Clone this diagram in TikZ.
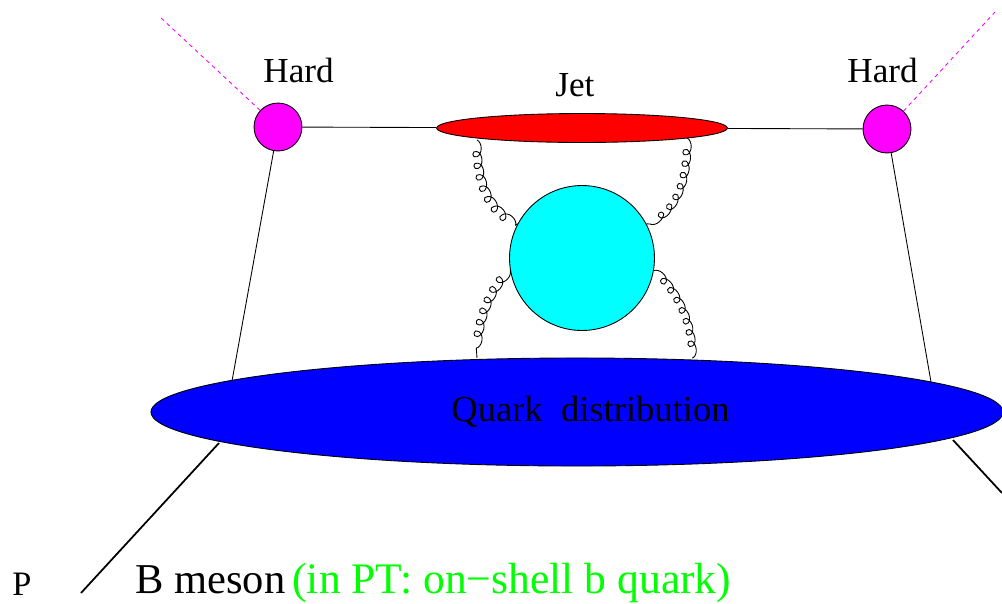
\documentclass[tikz,border=0pt]{standalone}
\usepackage{fontspec}
\setmainfont{Liberation Serif}
\usetikzlibrary{shapes.geometric,decorations.pathmorphing}
\definecolor{hardmag}{rgb}{1,0,1}
\definecolor{softcyan}{rgb}{0,1,1}
\definecolor{ptgreen}{rgb}{0,1,0}
\tikzset{
 blob/.style={draw, line width=0.5pt, inner sep=0pt},
 gluon/.style={decorate, decoration={coil, amplitude=2.4pt, segment length=6.6pt, aspect=1.3}},
 lbl/.style={anchor=base west, inner sep=0pt, font=\fontsize{20}{24}\selectfont},
}
\begin{document}
\begin{tikzpicture}[x=0.02cm, y=-0.02cm, line width=0.5pt]
 \useasboundingbox (0,0) rectangle (1002,603);
 % blobs
 \node[blob, circle, fill=hardmag, minimum size=27.3pt] (hardL) at (278,127) {};
 \node[blob, circle, fill=hardmag, minimum size=27.3pt] (hardR) at (887,129) {};
 \node[blob, ellipse, fill=red, minimum width=165.5pt, minimum height=16.5pt] (jet) at (582,128) {};
 \node[blob, circle, fill=softcyan, minimum size=82.5pt] (soft) at (582,258) {};
 % ends on the quark distribution
 \coordinate (qL) at (232,381);
 \coordinate (qR) at (931,382);
 \coordinate (bL) at (219,443);
 \coordinate (bR) at (953,440);
 \coordinate (pL) at (81,593);
 \coordinate (pR) at (1002,493);
 \coordinate (outL) at (160,17);
 \coordinate (outR) at (995,12);
 % lines
 \draw (hardL) -- (jet);
 \draw (jet) -- (hardR);
 \draw (hardL) -- (qL);
 \draw (hardR) -- (qR);
 \draw[hardmag, dash pattern=on 2.2pt off 2.2pt] (hardL) -- (outL);
 \draw[hardmag, dash pattern=on 2.2pt off 2.2pt] (hardR) -- (outR);
 \draw[line width=1pt] (bL) -- (pL);
 \draw[line width=1pt] (bR) -- (pR);
 % gluons
 \draw[gluon] (477,140) .. controls (477,185) and (490,210) .. (soft.152);
 \draw[gluon] (soft.190) .. controls (490,290) and (477,320) .. (477,358);
 \draw[gluon] (687,138) .. controls (687,185) and (675,210) .. (soft.28);
 \draw[gluon] (soft.-10) .. controls (675,290) and (692,320) .. (692,358);
 \node[blob, ellipse, fill=blue, minimum width=485pt, minimum height=61.5pt] (quark) at (577,412) {};
 % texts
 \node[lbl] (hardLt) at (263,82) {Hard};
 \node[lbl] (hardRt) at (847,82) {Hard};
 \node[lbl] (jett) at (555,96) {Jet};
 \node[lbl, font=\fontsize{20.8}{24}\selectfont] (quarkt) at (451,421) {Quark\ \ distribution};
 \node[lbl, font=\fontsize{19.5}{24}\selectfont] (pt) at (12,595) {P};
 \node[lbl, font=\fontsize{24.2}{28}\selectfont] (bmes) at (135,593) {B meson};
 \node[lbl, font=\fontsize{24.8}{28}\selectfont, text=ptgreen] (pert) at (292,593) {(in PT: on\textminus shell b quark)};
\end{tikzpicture}
\end{document}
